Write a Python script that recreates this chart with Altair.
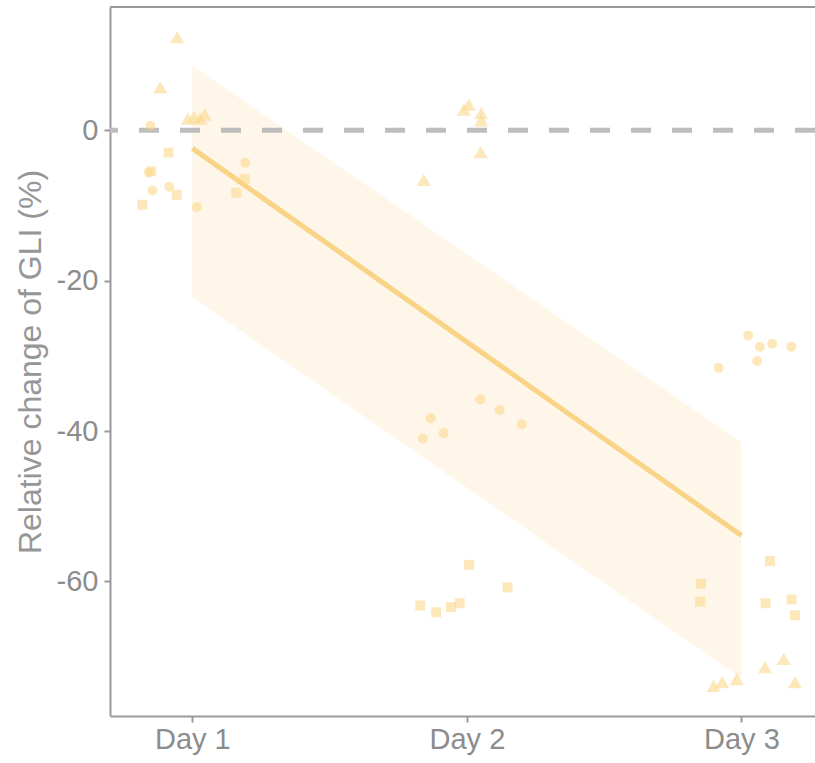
import altair as alt
import pandas as pd

# ---- data ----
day1_x = [0.945, 0.883, 0.984, 1.005, 1.029, 1.045,
          0.847, 1.193, 0.841, 0.855, 0.916, 1.016,
          0.913, 0.850, 1.190, 0.943, 1.160, 0.818]
day1_y = [12.4, 5.7, 1.55, 1.77, 1.55, 2.1,
          0.62, -4.3, -5.6, -8.0, -7.5, -10.2,
          -2.97, -5.45, -6.5, -8.6, -8.3, -9.9]
day2_x = [2.007, 1.989, 2.052, 2.052, 2.050, 1.843,
          2.049, 2.119, 2.200, 1.868, 1.915, 1.839,
          2.008, 2.148, 1.830, 1.888, 1.942, 1.974]
day2_y = [3.4, 2.75, 2.3, 1.33, -2.9, -6.6,
          -35.8, -37.2, -39.1, -38.3, -40.3, -41.0,
          -57.8, -60.8, -63.2, -64.1, -63.4, -62.9]
day3_x = [2.899, 2.930, 2.983, 3.086, 3.154, 3.195,
          3.025, 3.067, 3.112, 3.182, 3.057, 2.917,
          3.104, 2.853, 2.850, 3.088, 3.183, 3.195]
day3_y = [-73.9, -73.4, -73.0, -71.4, -70.3, -73.4,
          -27.3, -28.8, -28.4, -28.8, -30.7, -31.6,
          -57.3, -60.3, -62.7, -62.9, -62.4, -64.5]
groups = ["triangle"] * 6 + ["circle"] * 6 + ["square"] * 6

fit_x = [1, 3]
fit_y = [-2.4, -53.9]
fit_lo = [-22.2, -72.9]
fit_hi = [8.6, -41.5]

tick_values = [1, 2, 3]
tick_labels = ["Day 1", "Day 2", "Day 3"]
y_ticks = [0, -20, -40, -60]

# ---- tables ----
pts = pd.DataFrame({
    "x": day1_x + day2_x + day3_x,
    "y": day1_y + day2_y + day3_y,
    "g": groups * 3,
})
fit = pd.DataFrame({"x": fit_x, "y": fit_y, "lo": fit_lo, "hi": fit_hi})

XDOM = [0.7, 3.268]
YDOM = [-77.9, 16.4]
GREY = "#9a9a9a"
FONT = "Liberation Sans"
label_expr = ("datum.value == %d ? '%s' : datum.value == %d ? '%s' : '%s'"
              % (tick_values[0], tick_labels[0], tick_values[1], tick_labels[1], tick_labels[2]))

xscale = alt.Scale(domain=XDOM, nice=False, zero=False)
yscale = alt.Scale(domain=YDOM, nice=False, zero=False)
xaxis = alt.Axis(values=tick_values, labelExpr=label_expr, title=None, labelPadding=3)
yaxis = alt.Axis(values=y_ticks, labelExpr="'' + datum.value",
                 title="Relative change of GLI (%)", labelPadding=6, titlePadding=9)


def X(f):
    return alt.X(f, scale=xscale, axis=xaxis)


def Y(f):
    return alt.Y(f, scale=yscale, axis=yaxis)


ribbon = alt.Chart(fit).mark_area(color="#fef6e8", opacity=1).encode(
    x=X("x:Q"), y=Y("lo:Q"), y2="hi:Q")

zero = alt.Chart(pd.DataFrame({"y": [0]})).mark_rule(
    color="#bdbdbd", strokeWidth=5, strokeDash=[20, 21]).encode(y=Y("y:Q"))

line = alt.Chart(fit).mark_line(color="#f9d386", strokeWidth=5).encode(
    x=X("x:Q"), y=Y("y:Q"))


def pts_layer(group, shape, size):
    return alt.Chart(pts).transform_filter(alt.datum.g == group).mark_point(
        filled=True, opacity=0.55, color="#fbd585", shape=shape, size=size).encode(
        x=X("x:Q"), y=Y("y:Q"))


circles = pts_layer("circle", "circle", 100)
squares = pts_layer("square", "square", 100)
triangles = pts_layer("triangle", "triangle-up", 200)

top = alt.Chart(pd.DataFrame({"a": [0]})).mark_rule(color=GREY, strokeWidth=2).encode(
    x=alt.value(0), x2=alt.value(705), y=alt.value(0))

chart = alt.layer(ribbon, zero, line, circles, squares, triangles, top).properties(
    width=705, height=709,
    autosize=alt.AutoSizeParams(type="none"),
    padding={"left": 110, "top": 7, "right": 0, "bottom": 47},
    background="white",
).configure_view(stroke=None).configure_axis(
    grid=False, labelFontSize=29, labelColor="#8c8c8c", labelFont=FONT,
    titleFont=FONT, titleFontSize=32, titleFontWeight="normal", titleColor="#969696",
    tickColor=GREY, tickSize=6, tickWidth=2,
    domainColor=GREY, domainWidth=2)

chart.save("out.html", embed_options={"renderer": "svg", "actions": False})
